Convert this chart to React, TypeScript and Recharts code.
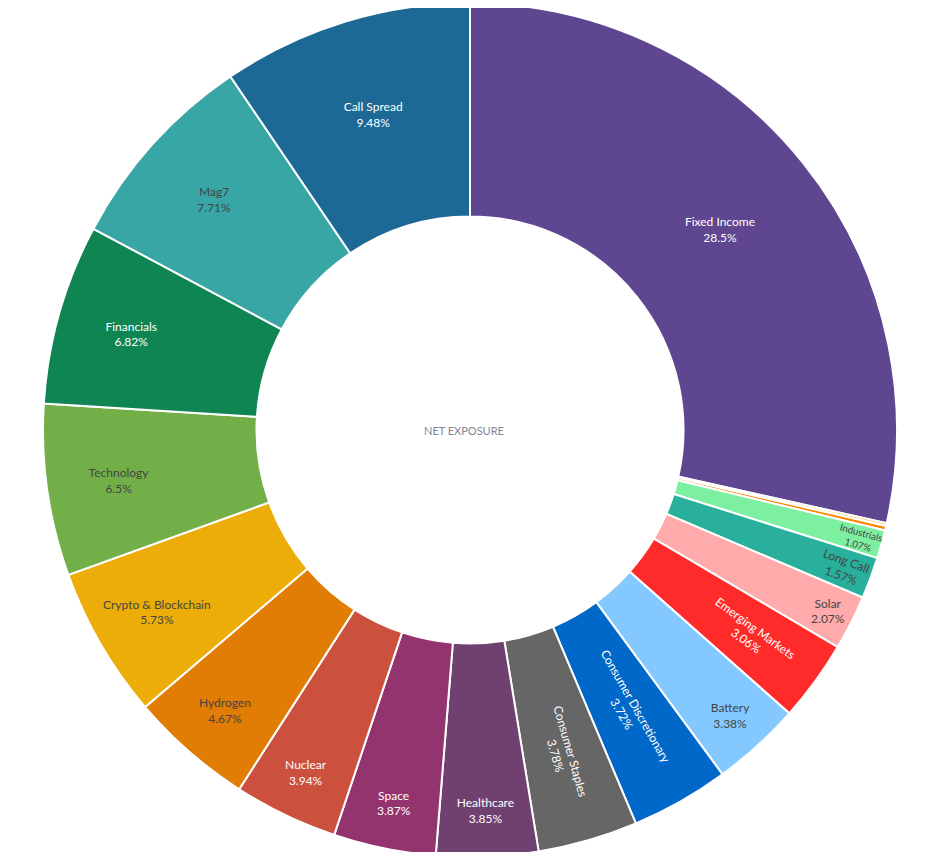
import React from 'react';
import { PieChart, Pie, Cell } from 'recharts';

// ---- data (clockwise from 12 o'clock) ----
const categories = [
  'Fixed Income',
  'Other A',
  'Other B',
  'Industrials',
  'Long Call',
  'Solar',
  'Emerging Markets',
  'Battery',
  'Consumer Discretionary',
  'Consumer Staples',
  'Healthcare',
  'Space',
  'Nuclear',
  'Hydrogen',
  'Crypto & Blockchain',
  'Technology',
  'Financials',
  'Mag7',
  'Call Spread',
];
const values = [28.5, 0.11, 0.17, 1.07, 1.57, 2.07, 3.06, 3.38, 3.72, 3.78, 3.85, 3.87, 3.94, 4.67, 5.73, 6.5, 6.82, 7.71, 9.48];
const colors = [
  '#5F4690', '#FFD16A', '#FF8700', '#7DEFA1', '#29B09D', '#FFABAB', '#FF2B2B', '#83C9FF', '#0068C9',
  '#666666', '#6F4070', '#94346E', '#CC503E', '#E17C05', '#EDAD08', '#73AF48', '#0F8554', '#38A6A5', '#1D6996',
];
const centerTitle = 'NET EXPOSURE';

const data = categories.map((name, i) => ({ name, value: values[i] }));

const FONT = 'Lato, "Source Sans Pro", "Open Sans", sans-serif';
const FONT_SIZE = 12;
const LINE_SPACING = 1.3;
const TEXTPAD = 3;

let ctx: CanvasRenderingContext2D | null = null;
function measure(text: string): number {
  if (!ctx) ctx = document.createElement('canvas').getContext('2d');
  if (!ctx) return text.length * FONT_SIZE * 0.5;
  ctx.font = `${FONT_SIZE}px ${FONT}`;
  return ctx.measureText(text).width;
}

function isDark(hex: string): boolean {
  const r = parseInt(hex.slice(1, 3), 16);
  const g = parseInt(hex.slice(3, 5), 16);
  const b = parseInt(hex.slice(5, 7), 16);
  return (r * 299 + g * 587 + b * 114) / 1000 < 128;
}

function maxHalf(a: number, halfAngle: number, r: number, ring: number) {
  const q = a + 1 / (2 * Math.tan(halfAngle));
  return r * Math.min(1 / (Math.sqrt(q * q + 0.5) + q), ring / (Math.sqrt(a * a + ring / 2) + a));
}

function norm(deg: number) {
  return ((((deg + 90) % 180) + 180) % 180) - 90;
}

function renderLabel(props: any) {
  const { cx, cy, midAngle, percent, index, innerRadius, outerRadius } = props;
  const name = categories[index];
  const pctText = `${parseFloat((percent * 100).toPrecision(3))}%`;
  const w = Math.max(measure(name), measure(pctText));
  const h = FONT_SIZE * LINE_SPACING * 2;
  const R = outerRadius;
  const ring = 1 - innerRadius / outerRadius;
  const halfAngle = percent * Math.PI;
  if (halfAngle <= 0) return null;

  const rIns = Math.min(1 / (1 + 1 / Math.sin(halfAngle)), ring / 2);
  let best = { scale: (rIns * R * 2) / Math.hypot(w, h), rCenter: 1 - rIns, rotate: 0 };
  if (best.scale < 1) {
    const rp = Math.max(0, R - 2 * TEXTPAD);
    const aT = h / w;
    const sT = maxHalf(aT, halfAngle, rp, ring);
    const tan = { scale: (sT * 2) / w, rCenter: Math.cos(sT / rp) - aT * (sT / rp), rotate: norm(-midAngle + 90) };
    const aR = w / h;
    const sR = maxHalf(aR, halfAngle, rp, ring);
    const rad = { scale: (sR * 2) / h, rCenter: Math.cos(sR / rp) - aR * (sR / rp), rotate: norm(-midAngle) };
    for (const t of [tan, rad]) if (t.scale > best.scale) best = t;
  }
  const scale = Math.min(1, best.scale);
  if (scale < 0.35) return null;
  const phi = (midAngle * Math.PI) / 180;
  const x = cx + best.rCenter * R * Math.cos(phi);
  const y = cy - best.rCenter * R * Math.sin(phi);
  const fs = FONT_SIZE * scale;
  const lh = FONT_SIZE * LINE_SPACING * scale;
  const fill = isDark(colors[index]) ? '#ffffff' : '#444444';
  return (
    <g transform={`translate(${x},${y}) rotate(${best.rotate})`}>
      <text x={0} y={-lh / 2} textAnchor="middle" dominantBaseline="central" fontSize={fs} fontFamily={FONT} fill={fill}>
        {name}
      </text>
      <text x={0} y={lh / 2} textAnchor="middle" dominantBaseline="central" fontSize={fs} fontFamily={FONT} fill={fill}>
        {pctText}
      </text>
    </g>
  );
}

export default function App() {
  return (
    <div style={{ margin: -8, position: 'relative', width: 928, height: 860, background: '#ffffff' }}>
      <PieChart width={928} height={860} margin={{ top: 0, right: 0, bottom: 0, left: 0 }}>
        <Pie
          data={data}
          dataKey="value"
          nameKey="name"
          cx={470}
          cy={430}
          innerRadius={213.5}
          outerRadius={427}
          startAngle={90}
          endAngle={-270}
          stroke="#ffffff"
          strokeWidth={2}
          label={renderLabel}
          labelLine={false}
          isAnimationActive={false}
        >
          {data.map((d, i) => (
            <Cell key={d.name} fill={colors[i]} />
          ))}
        </Pie>
      </PieChart>
      <div
        style={{
          position: 'absolute',
          left: 0,
          top: 430,
          width: 928,
          textAlign: 'center',
          transform: 'translateY(-50%)',
          fontFamily: FONT,
          fontSize: 11,
          color: '#808495',
          lineHeight: 1,
        }}
      >
        {centerTitle}
      </div>
    </div>
  );
}
